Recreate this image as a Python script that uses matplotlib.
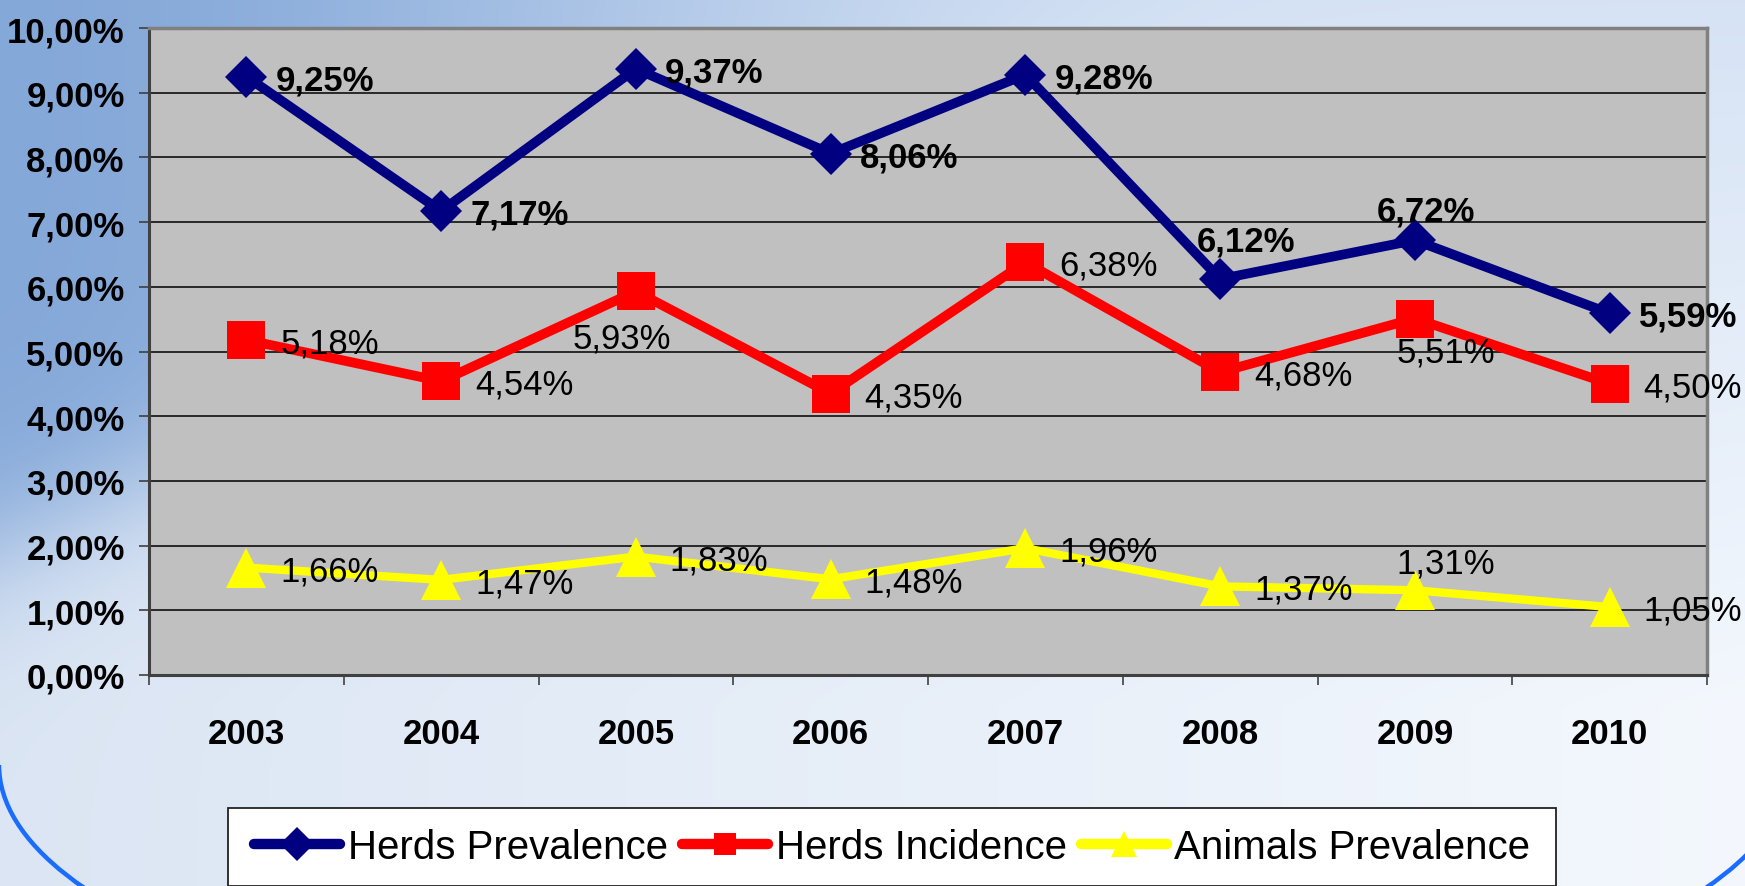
import numpy as np
import matplotlib
matplotlib.use("Agg")
import matplotlib.pyplot as plt
from matplotlib import font_manager as fm
from matplotlib.lines import Line2D
from matplotlib.patches import Rectangle, Arc
from matplotlib.ticker import FuncFormatter, FixedLocator

# ---------------- data ----------------
years = ["2003", "2004", "2005", "2006", "2007", "2008", "2009", "2010"]
herds_prevalence = [9.25, 7.17, 9.37, 8.06, 9.28, 6.12, 6.72, 5.59]
herds_incidence = [5.18, 4.54, 5.93, 4.35, 6.38, 4.68, 5.51, 4.50]
animals_prevalence = [1.66, 1.47, 1.83, 1.48, 1.96, 1.37, 1.31, 1.05]
series_names = ["Herds Prevalence", "Herds Incidence", "Animals Prevalence"]
y_ticks = [0, 1, 2, 3, 4, 5, 6, 7, 8, 9, 10]


def has_font(name):
    try:
        fm.findfont(fm.FontProperties(family=name), fallback_to_default=False)
        return True
    except Exception:
        return False


MAIN = "Liberation Sans" if has_font("Liberation Sans") else "DejaVu Sans"
NARROW = "Liberation Sans Narrow" if has_font("Liberation Sans Narrow") else None
plt.rcParams["font.family"] = [MAIN, "DejaVu Sans"]

W, H = 1745, 887
DPI = 100
fig = plt.figure(figsize=(W / DPI, H / DPI), dpi=DPI)

# ---------------- background ----------------
bg = fig.add_axes([0, 0, 1, 1], zorder=0)
bg.set_axis_off()
nx, ny = 350, 180
xx, yy = np.meshgrid(np.linspace(0, 1, nx), np.linspace(0, 1, ny))
top_c = np.array([0.84, 0.89, 0.96])
bl_c = np.array([0.86, 0.90, 0.955])
br_c = np.array([0.955, 0.972, 0.993])
bottom_c = bl_c[None, None, :] * (1 - xx[..., None]) + br_c[None, None, :] * xx[..., None]
ty = np.clip(yy / 0.8, 0, 1)[..., None]
base = top_c[None, None, :] * (1 - ty) + bottom_c * ty
blue = np.array([0.52, 0.66, 0.85])
w = np.exp(-(xx / 0.42) ** 2) / (1 + np.exp(-(0.62 - yy - 0.9 * xx) / 0.05))
img = base * (1 - w[..., None]) + blue[None, None, :] * w[..., None]
bg.imshow(img, extent=[0, 1, 0, 1], aspect="auto", origin="upper", interpolation="bilinear")
bg.set_xlim(0, 1)
bg.set_ylim(0, 1)

# decorative arc (lower part of a big ellipse)
arc = Arc((895 / W, 1 - 766 / H), 2 * 896 / W, 2 * 289 / H, theta1=180, theta2=360,
          transform=fig.transFigure, color="#1a6cff", lw=3.2, zorder=1)
fig.patches.append(arc)

# ---------------- main axes ----------------
left, right, top, bottom = 149, 1707, 29, 676
ax = fig.add_axes([left / W, 1 - bottom / H, (right - left) / W, (bottom - top) / H], zorder=2)
ax.set_facecolor("#c0c0c0")
x = np.arange(len(years))
ax.set_xlim(-0.5, len(years) - 0.5)
ax.set_ylim(0, 10)

for yv in y_ticks[1:-1]:
    ax.axhline(yv, color="black", lw=1.1, zorder=1)

for s in ["left", "bottom"]:
    ax.spines[s].set_color("#404040")
    ax.spines[s].set_linewidth(2.2)
for s in ["top", "right"]:
    ax.spines[s].set_color("#808080")
    ax.spines[s].set_linewidth(2.5)

ax.yaxis.set_major_locator(FixedLocator(y_ticks))
ax.yaxis.set_major_formatter(FuncFormatter(lambda v, p: f"{v:.2f}%".replace(".", ",")))
ax.tick_params(axis="y", direction="out", length=7.5, width=1.2, color="#404040", pad=10,
               labelsize=25)
for t in ax.get_yticklabels():
    t.set_fontweight("bold")

ax.xaxis.set_major_locator(FixedLocator(np.arange(-0.5, len(years), 1.0)))
ax.xaxis.set_major_formatter(FuncFormatter(lambda v, p: ""))
ax.xaxis.set_minor_locator(FixedLocator(x))
ax.set_xticks(x, years, minor=True)
ax.tick_params(axis="x", which="major", direction="out", length=7.5, width=1.2, color="#404040")
ax.tick_params(axis="x", which="minor", length=0, pad=30, labelsize=25)
for t in ax.get_xticklabels(minor=True):
    t.set_fontweight("bold")

colors = ["#000080", "#ff0000", "#ffff00"]
markers = ["D", "s", "^"]
msizes = [21.5, 27, 29]
lws = [7, 7, 6]
data = [herds_prevalence, herds_incidence, animals_prevalence]

for i in [2, 1, 0]:
    ax.plot(x, data[i], color=colors[i], lw=lws[i], marker=markers[i], ms=msizes[i],
            markeredgewidth=0, solid_joinstyle="miter", zorder=3 + (2 - i), clip_on=False)

# data labels: default to the right; a few placed elsewhere (offsets in pixels)
special = {
    (0, 5): (26, -41, "center"),
    (0, 6): (11, -32, "center"),
    (1, 2): (-14, 44, "center"),
    (1, 6): (31, 30, "center"),
    (2, 6): (31, -30, "center"),
}
for i in range(3):
    for j, v in enumerate(data[i]):
        txt = f"{v:.2f}%".replace(".", ",")
        if (i, j) in special:
            dx, dy, ha = special[(i, j)]
        else:
            dx, dy, ha = (29 if i == 0 else 34), 0, "left"
        ax.annotate(txt, (x[j], v), xytext=(dx, -dy - 12.5), textcoords="offset pixels",
                    ha=ha, va="baseline", fontsize=25,
                    fontweight="bold" if i == 0 else "normal", color="black", zorder=10,
                    annotation_clip=False)

# ---------------- legend ----------------
box = Rectangle((228 / W, 0.0), (1556 - 228) / W, (H - 809) / H, transform=fig.transFigure,
                facecolor="white", edgecolor="#222222", lw=1.3, zorder=3)
fig.patches.append(box)

handles = [Line2D([], [], color=colors[k], lw=7.5, marker=markers[k],
                  ms=[17, 16, 19][k], markeredgewidth=0, solid_capstyle="round")
           for k in range(3)]
if NARROW:
    lfont = {"family": [NARROW, MAIN], "size": 35}
    fpx = 35 * DPI / 72
else:
    lfont = {"family": [MAIN], "size": 29}
    fpx = 29 * DPI / 72
leg = fig.legend(handles, series_names, loc="center", bbox_to_anchor=(892 / W, 1 - 848 / H),
                 ncol=3, frameon=False, prop=lfont, handlelength=86 / fpx,
                 handletextpad=8 / fpx, columnspacing=14 / fpx, borderpad=0.1)
leg.set_zorder(4)

fig.savefig("out.png", dpi=DPI)
